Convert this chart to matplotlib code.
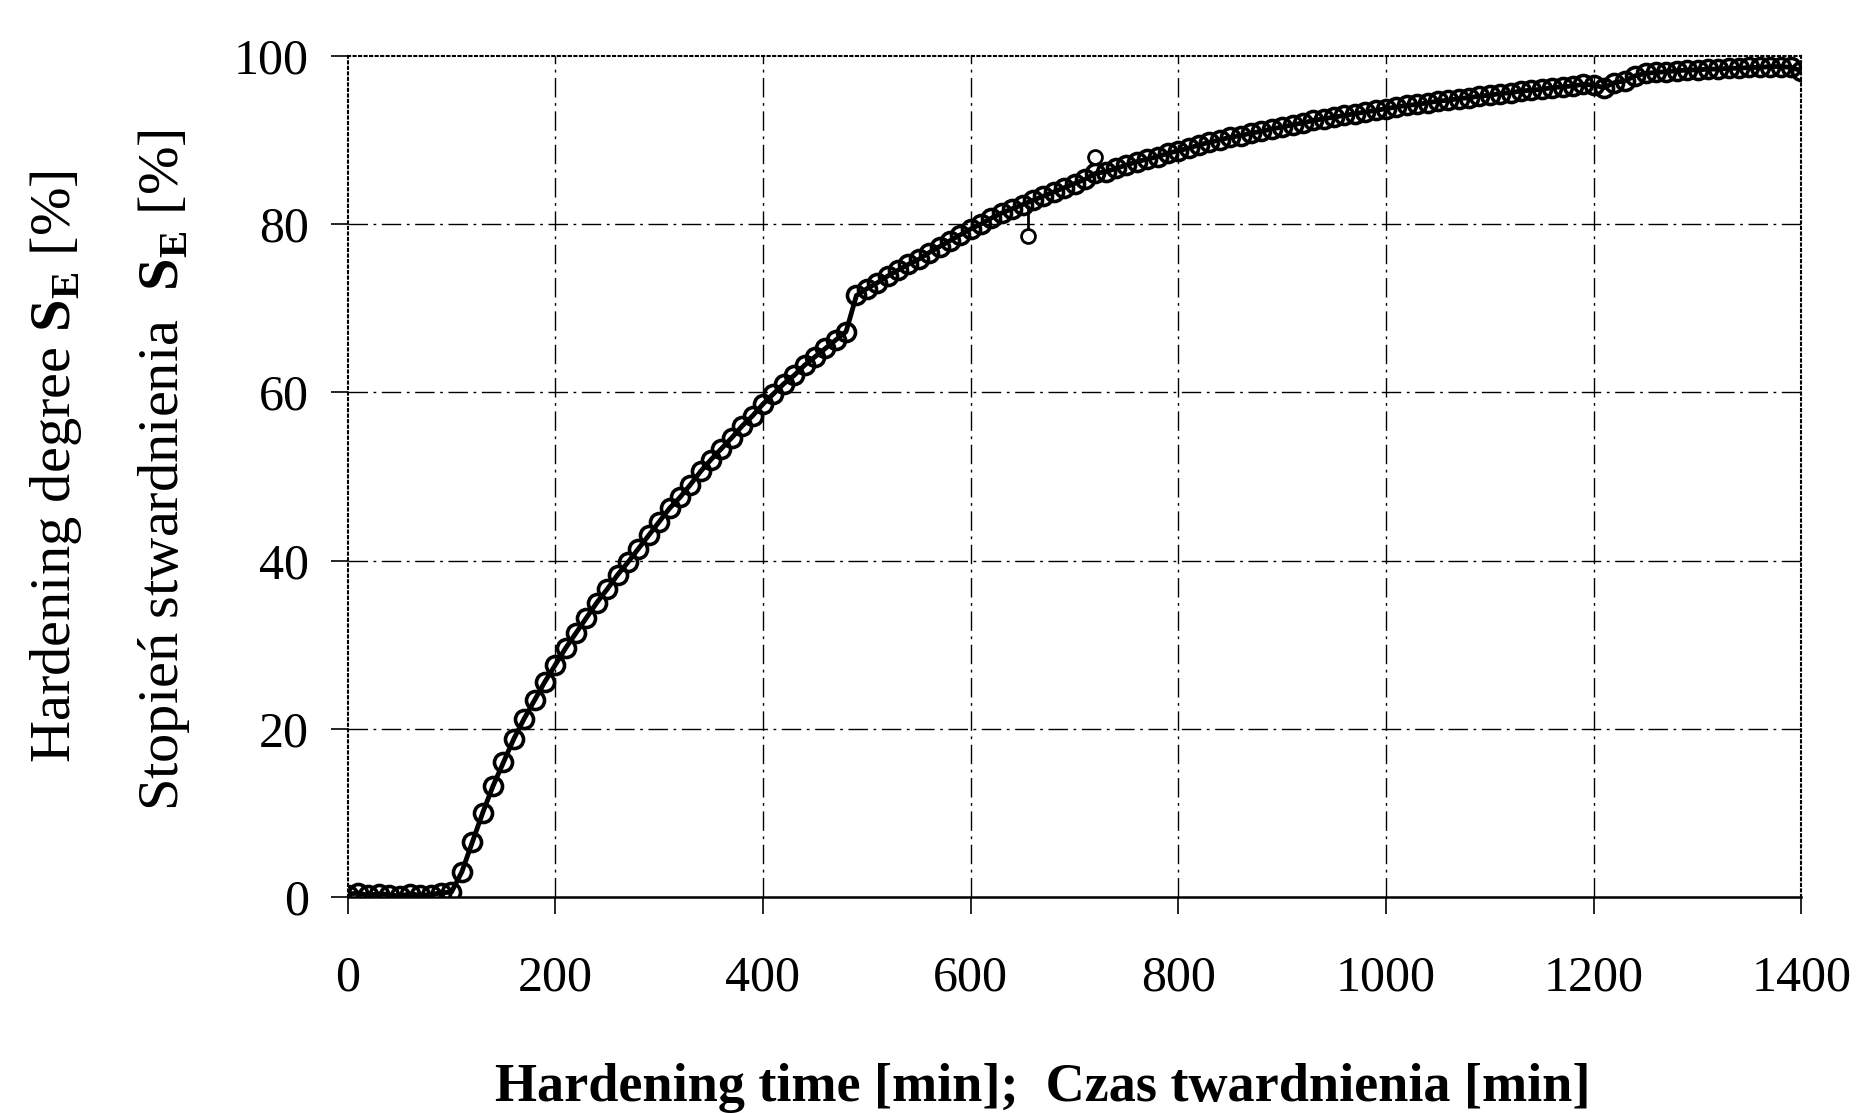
import numpy as np
import matplotlib
matplotlib.use("Agg")
import matplotlib.pyplot as plt

# ========== DATA ==========
time_min = list(range(0, 1410, 10))
degree = [
    0.3, 0.5, 0.2, 0.4, 0.3, 0.1, 0.4, 0.2, 0.3, 0.5,
    0.6, 3.0, 6.5, 10.0, 13.2, 16.0, 18.8, 21.2, 23.4, 25.6,
    27.6, 29.6, 31.4, 33.2, 35.0, 36.6, 38.3, 39.8, 41.4, 43.0,
    44.6, 46.2, 47.5, 49.0, 50.6, 52.0, 53.3, 54.6, 56.0, 57.2,
    58.6, 59.8, 61.0, 62.0, 63.2, 64.2, 65.2, 66.2, 67.2, 71.5,
    72.3, 73.0, 73.8, 74.5, 75.2, 75.8, 76.6, 77.3, 78.0, 78.7,
    79.4, 80.0, 80.7, 81.3, 81.8, 82.3, 82.8, 83.3, 83.8, 84.3,
    84.8, 85.3, 86.0, 86.2, 86.6, 87.0, 87.4, 87.7, 88.0, 88.4,
    88.7, 89.0, 89.4, 89.7, 90.0, 90.3, 90.5, 90.8, 91.0, 91.3,
    91.5, 91.8, 92.0, 92.3, 92.5, 92.7, 92.9, 93.1, 93.3, 93.5,
    93.7, 93.9, 94.1, 94.2, 94.4, 94.6, 94.7, 94.9, 95.0, 95.2,
    95.3, 95.5, 95.6, 95.8, 95.9, 96.0, 96.2, 96.3, 96.4, 96.6,
    96.5, 96.2, 96.8, 97.0, 97.6, 97.9, 98.0, 98.1, 98.2, 98.3,
    98.3, 98.4, 98.4, 98.5, 98.5, 98.6, 98.6, 98.7, 98.7, 98.6,
    98.2,
]
# two stray readings standing out of the band
outlier_t = [655, 720]
outlier_v = [78.6, 88.0]

x_ticks = [0, 200, 400, 600, 800, 1000, 1200, 1400]
y_ticks = [0, 20, 40, 60, 80, 100]

# ========== STYLE ==========
plt.rcParams['font.family'] = ['Liberation Serif', 'DejaVu Serif']
plt.rcParams['mathtext.fontset'] = 'custom'
plt.rcParams['mathtext.rm'] = 'Liberation Serif'
plt.rcParams['mathtext.bf'] = 'Liberation Serif:bold'

fig = plt.figure(figsize=(18.59, 11.13), dpi=100)
ax = fig.add_axes([0.187, 0.194, 0.782, 0.756])

# grid drawn like the broken scanned lines
for yv in y_ticks[1:-1]:
    ax.axhline(yv, color='black', lw=1.0, ls=(0, (14, 4, 2, 4)), zorder=1)
for xv in x_ticks[1:-1]:
    ax.axvline(xv, color='black', lw=1.0, ls=(0, (14, 4, 2, 4)), zorder=1)

# dense band of open circles over the connecting line
ax.plot(time_min, degree, color='black', lw=3.5, marker='o', ms=13,
        mfc='none', mec='black', mew=2.6, zorder=3)
ax.plot(outlier_t, outlier_v, ls='none', marker='o', ms=10,
        mfc='white', mec='black', mew=2.0, zorder=3)
ax.vlines(outlier_t[0], outlier_v[0], 82.3, color='black', lw=2, zorder=2)

ax.set_xlim(0, 1400)
ax.set_ylim(0, 100)
ax.set_xticks(x_ticks)
ax.set_yticks(y_ticks)
ax.tick_params(axis='both', direction='out', length=12, width=1.2,
               labelsize=36, colors='black')
ax.tick_params(axis='x', pad=30)
ax.tick_params(axis='y', pad=16)

for side in ['left', 'top', 'right']:
    ax.spines[side].set_linestyle(':')
    ax.spines[side].set_linewidth(1.5)
ax.spines['bottom'].set_linewidth(1.8)

fig.text(0.561, 0.011, 'Hardening time [min];  Czas twardnienia [min]',
         ha='center', va='baseline', fontsize=39, fontweight='bold')
fig.text(0.030, 0.581, r'Hardening degree $\mathbf{S}_{\mathbf{E}}$ [%]',
         ha='center', va='center', rotation=90, fontsize=42)
fig.text(0.088, 0.578, r'Stopień stwardnienia  $\mathbf{S}_{\mathbf{E}}$ [%]',
         ha='center', va='center', rotation=90, fontsize=42)

fig.savefig('out.png', dpi=100, facecolor='white')
